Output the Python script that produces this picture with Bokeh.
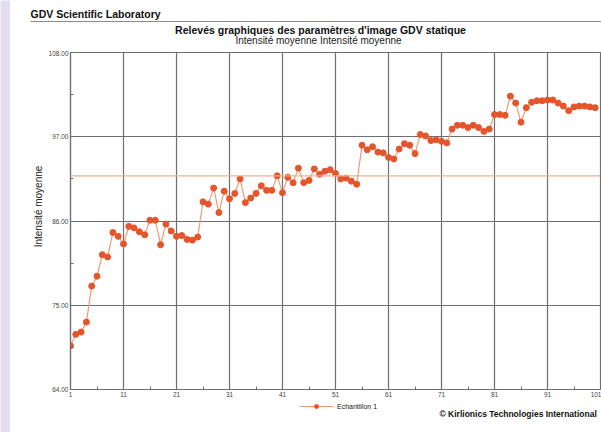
import numpy as np
from bokeh.plotting import figure
from bokeh.layouts import column, row
from bokeh.models import (Label, Span, FixedTicker, NumeralTickFormatter,
                          Legend, LegendItem, ColumnDataSource, Range1d)
from bokeh.embed import file_html
from bokeh.resources import INLINE

# ---- data ----
sample_index = list(range(1, 101))
intensity = [
    69.7, 71.2, 71.5, 72.8, 77.5, 78.8, 81.6, 81.3, 84.5, 84.0,
    83.0, 85.3, 85.1, 84.6, 84.2, 86.1, 86.1, 82.9, 85.6, 84.7,
    84.0, 84.1, 83.6, 83.5, 83.9, 88.5, 88.2, 90.3, 87.1, 89.9,
    88.9, 89.6, 91.5, 88.4, 89.0, 89.6, 90.6, 90.0, 90.0, 91.9,
    89.7, 91.7, 91.0, 92.9, 91.0, 91.3, 92.8, 92.1, 92.5, 92.7,
    92.2, 91.5, 91.6, 91.2, 90.8, 95.9, 95.3, 95.7, 95.0, 94.9,
    94.3, 94.1, 95.4, 96.1, 95.9, 94.8, 97.3, 97.1, 96.5, 96.6,
    96.4, 96.2, 98.0, 98.5, 98.5, 98.2, 98.5, 98.2, 97.7, 98.0,
    99.9, 99.9, 99.8, 102.3, 101.4, 98.9, 100.8, 101.5, 101.7, 101.7,
    101.8, 101.8, 101.4, 101.0, 100.4, 100.9, 101.0, 101.0, 100.9, 100.8,
]
x_ticks = [1, 11, 21, 31, 41, 51, 61, 71, 81, 91, 101]
x_minor = [6, 16, 26, 36, 46, 56, 66, 76, 86, 96]
y_ticks = [64, 75, 86, 97, 108]
y_minor = [69.5, 80.5, 91.5, 102.5]
series_name = "Echantillon 1"
lab_name = "GDV Scientific Laboratory"
title_text = "Relevés graphiques des paramètres d'image GDV statique"
subtitle_text = "Intensité moyenne Intensité moyenne"
y_label = "Intensité moyenne"
copyright_text = "© Kirlionics Technologies International"

FONT = "Liberation Sans"
GRID = "#6e6e6e"
ORANGE = "#e5552c"
LINE = "#f29a72"
MEAN = "#f5ad8e"
STRIP = "#e6dcf0"

W = 601
SW = 10          # lavender strip on the left edge
LEFT_W = 35      # axis-title column (page x 10..45)
MAIN_W = W - SW - LEFT_W


def blank(x0, x1, y0, y1, height=None, **kw):
    """A figure whose frame fills it, with page pixel coordinates as data."""
    f = figure(width=int(x1 - x0), height=height or int(y1 - y0),
               output_backend="svg", toolbar_location=None,
               x_range=Range1d(x0, x1), y_range=Range1d(y1, y0), **kw)
    f.axis.visible = False
    f.grid.visible = False
    f.outline_line_color = None
    f.background_fill_color = "white"
    f.border_fill_color = "white"
    return f


def txt(f, text, x, y, size, bold=False, align="left", angle=0.0, color="#111111"):
    f.add_layout(Label(x=x, y=y, text=text, text_font=FONT, text_font_size=size,
                       text_font_style="bold" if bold else "normal",
                       text_align=align, text_baseline="middle", angle=angle,
                       text_color=color))


# ---- lavender strip (whole height) ----
strip = figure(width=SW, height=432, output_backend="svg", toolbar_location=None,
               x_range=Range1d(0, SW), y_range=Range1d(432, 0), min_border=0,
               min_border_left=0, min_border_right=0, min_border_top=0, min_border_bottom=0)
strip.axis.visible = False
strip.grid.visible = False
strip.outline_line_color = None
strip.background_fill_color = STRIP
strip.border_fill_color = STRIP
strip.scatter([-20], [-20], size=1, alpha=0)

# ---- header (page y 0..50) ----
head = blank(SW, W, 0, 50, min_border=0, min_border_left=0, min_border_right=0,
             min_border_top=0, min_border_bottom=0)
txt(head, lab_name, 30, 13, "10.5px", bold=True)
head.segment(x0=30, y0=21, x1=W, y1=21, line_color="#8c8c8c", line_width=1)
txt(head, title_text, 320, 29, "10.5px", bold=True, align="center")
txt(head, subtitle_text, 318, 40, "10px", align="center", color="#222222")

# ---- left column with axis title: frame aligned with main frame (page y 52..389) ----
side = figure(width=LEFT_W, height=350, output_backend="svg", toolbar_location=None,
              x_range=Range1d(SW, SW + LEFT_W), y_range=Range1d(389, 52),
              min_border_left=0, min_border_right=0, min_border_top=2, min_border_bottom=11)
side.axis.visible = False
side.grid.visible = False
side.outline_line_color = None
side.background_fill_color = "white"
side.border_fill_color = "white"
txt(side, y_label, 38, 206, "10px", align="center", angle=np.pi / 2, color="#222222")

# ---- main chart ----
src = ColumnDataSource(dict(x=sample_index, y=intensity))
p = figure(width=MAIN_W, height=350, output_backend="svg", toolbar_location=None,
           x_range=(1, 101), y_range=(64, 108),
           min_border_left=69 - SW - LEFT_W, min_border_right=1, min_border_top=2,
           min_border_bottom=11)
p.background_fill_color = "white"
p.border_fill_color = "white"
p.outline_line_color = GRID
p.outline_line_width = 1.2

p.xaxis.ticker = FixedTicker(ticks=x_ticks, minor_ticks=x_minor)
p.yaxis.ticker = FixedTicker(ticks=y_ticks, minor_ticks=y_minor)
p.yaxis.formatter = NumeralTickFormatter(format="0.00")
for ax in (p.xaxis[0], p.yaxis[0]):
    ax.axis_line_color = GRID
    ax.axis_line_width = 1.2
    ax.major_tick_in = 0
    ax.major_tick_out = 0
    ax.minor_tick_in = 3
    ax.minor_tick_out = 0
    ax.minor_tick_line_color = GRID
    ax.major_label_text_font = FONT
    ax.major_label_text_font_size = "6.5px"
    ax.major_label_text_color = "#444444"
    ax.major_label_standoff = 2
p.xgrid.grid_line_color = GRID
p.xgrid.grid_line_width = 1.2
p.ygrid.grid_line_color = GRID
p.ygrid.grid_line_width = 1.2

mean_val = float(np.mean(intensity))
p.add_layout(Span(location=mean_val, dimension="width", line_color=MEAN, line_width=1.2))

p.line("x", "y", source=src, line_color=LINE, line_width=1.2)
p.scatter("x", "y", source=src, size=6, fill_color=ORANGE, line_color=ORANGE)

# ---- footer (page y 400..432) ----
foot = blank(SW, W, 400, 432, min_border=0, min_border_left=0, min_border_right=0,
             min_border_top=0, min_border_bottom=0)
# legend key renderers: placed off the visible area, only used to draw the legend key
lg_line = foot.line([-50, -40], [-50, -50], line_color=LINE, line_width=1.2)
lg_pts = foot.scatter([-50], [-50], size=6, fill_color=ORANGE, line_color=ORANGE)
legend = Legend(items=[LegendItem(label=series_name, renderers=[lg_line, lg_pts])],
                location=(299 - SW, 21), orientation="horizontal",
                glyph_width=34, glyph_height=10, padding=0, margin=0, spacing=0,
                label_standoff=4, border_line_color=None, background_fill_alpha=0,
                label_text_font=FONT, label_text_font_size="7px",
                label_text_color="#222222", label_height=10)
foot.add_layout(legend, "center")
txt(foot, copyright_text, 439, 413, "8.5px", bold=True)

layout = row(strip, column(head, row(side, p), foot))
open("out.html", "w").write(file_html(layout, INLINE))
